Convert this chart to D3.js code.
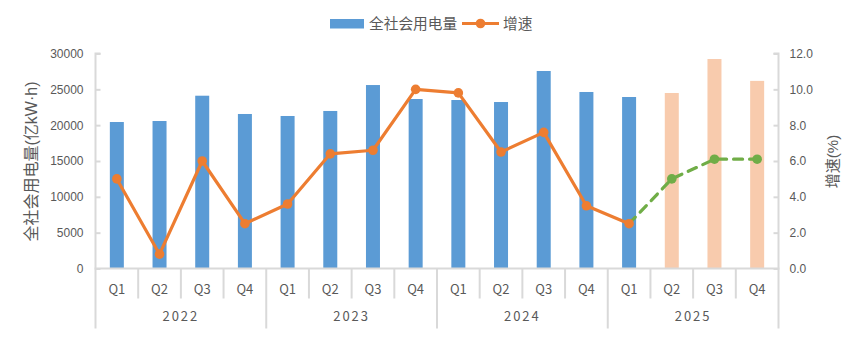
<!DOCTYPE html>
<html>
<head>
<meta charset="utf-8">
<script src="https://cdn.jsdelivr.net/npm/d3@7/dist/d3.min.js"></script>
<style>
  html, body { margin: 0; padding: 0; background: #fff; }
  svg { display: block; font-family: "Noto Sans CJK SC", "Noto Sans", sans-serif; }
</style>
</head>
<body>
<svg id="chart" width="864" height="339"></svg>
<script>
// Quarterly electricity consumption (亿kW·h) and year-on-year growth (%)
const years = ["2022", "2023", "2024", "2025"];
const quarters = ["Q1", "Q2", "Q3", "Q4"];
const consumption = [20440, 20580, 24110, 21560, 21280, 21980, 25600, 23650,
                     23510, 23230, 27560, 24630, 23930, 24490, 29230, 26180];
// last three quarters of 2025 are projections
const projected = [false, false, false, false, false, false, false, false,
                   false, false, false, false, false, true, true, true];
const growth = [5.0, 0.8, 6.0, 2.5, 3.6, 6.4, 6.6, 10.0, 9.8, 6.5, 7.6, 3.5, 2.5];
const growthForecast = [2.5, 5.0, 6.1, 6.1]; // 2025 Q1 .. Q4
const leftTicks = [0, 5000, 10000, 15000, 20000, 25000, 30000];
const rightTicks = [0, 2, 4, 6, 8, 10, 12];

const svg = d3.select("#chart");
const plotL = 95.5, plotR = 778.5, plotT = 53.5, plotB = 268.5;
const textColor = "#595959", axisColor = "#d9d9d9";
const blue = "#5b9bd5", peach = "#f8cbad", orange = "#ed7d31", green = "#70ad47";
const latin = "'Liberation Sans', 'DejaVu Sans', sans-serif";

const cats = d3.range(consumption.length);
const x = d3.scaleBand().domain(cats).range([plotL, plotR]);
const cx = i => x(i) + x.bandwidth() / 2;
const yL = d3.scaleLinear().domain([0, 30000]).range([plotB, plotT]);
const yR = d3.scaleLinear().domain([0, 12]).range([plotB, plotT]);

// bars
const barW = 14;
svg.append("g").selectAll("rect").data(consumption).join("rect")
  .attr("x", (d, i) => cx(i) - barW / 2)
  .attr("y", d => yL(d))
  .attr("width", barW)
  .attr("height", d => yL(0) - yL(d))
  .attr("fill", (d, i) => projected[i] ? peach : blue);

// left axis
const axL = svg.append("g").attr("transform", `translate(${plotL},0)`)
  .call(d3.axisRight(yL).tickValues(leftTicks).tickSize(5).tickFormat(d3.format("d")));
axL.select(".domain").attr("stroke", axisColor).attr("stroke-width", 2)
  .attr("d", `M5,${plotT}H0V${plotB}`);
axL.selectAll(".tick line").attr("stroke", axisColor).attr("stroke-width", 2);
axL.selectAll(".tick text").attr("x", -12).attr("text-anchor", "end")
  .attr("fill", textColor).style("font-size", "12px");

// right axis
const axR = svg.append("g").attr("transform", `translate(${plotR},0)`)
  .call(d3.axisLeft(yR).tickValues(rightTicks).tickSize(5).tickFormat(d3.format(".1f")));
axR.select(".domain").attr("stroke", axisColor).attr("stroke-width", 2)
  .attr("d", `M-5,${plotT}H0V${plotB}`);
axR.selectAll(".tick line").attr("stroke", axisColor).attr("stroke-width", 2);
axR.selectAll(".tick text").attr("x", 11).attr("text-anchor", "start")
  .attr("fill", textColor).style("font-size", "12px");

// category axis: baseline, quarter and year separators
const cat = svg.append("g");
cat.append("line").attr("x1", plotL - 1).attr("x2", plotR + 1)
  .attr("y1", plotB).attr("y2", plotB)
  .attr("stroke", axisColor).attr("stroke-width", 2);
d3.range(consumption.length + 1).forEach(i => {
  const xx = i < consumption.length ? x(i) : plotR;
  const isYear = i % 4 === 0;
  cat.append("line").attr("x1", xx).attr("x2", xx)
    .attr("y1", plotB).attr("y2", isYear ? 328.5 : 298.5)
    .attr("stroke", axisColor).attr("stroke-width", 2);
});
cat.selectAll("text.q").data(cats).join("text").attr("class", "q")
  .attr("x", i => cx(i)).attr("y", 293.5)
  .attr("text-anchor", "middle").attr("fill", textColor).style("font-size", "13px")
  .text(i => quarters[i % 4]);
cat.selectAll("text.yr").data(years).join("text").attr("class", "yr")
  .attr("x", (d, j) => (x(j * 4) + (j * 4 + 4 < consumption.length ? x(j * 4 + 4) : plotR)) / 2)
  .attr("y", 321)
  .attr("text-anchor", "middle").attr("fill", textColor)
  .style("font-size", "13px").style("letter-spacing", "2px")
  .text(d => d);

// growth forecast (dashed)
const fcIdx = d3.range(12, 16);
const lineF = d3.line().x((d, k) => cx(fcIdx[k])).y(d => yR(d));
svg.append("path").datum(growthForecast).attr("d", lineF)
  .attr("fill", "none").attr("stroke", green).attr("stroke-width", 3.2)
  .attr("stroke-dasharray", "9,7").attr("stroke-linecap", "round");
svg.append("g").selectAll("circle").data(growthForecast.slice(1)).join("circle")
  .attr("cx", (d, k) => cx(fcIdx[k + 1])).attr("cy", d => yR(d)).attr("r", 4.8)
  .attr("fill", green);

// growth line
const line = d3.line().x((d, i) => cx(i)).y(d => yR(d));
svg.append("path").datum(growth).attr("d", line)
  .attr("fill", "none").attr("stroke", orange).attr("stroke-width", 3.2)
  .attr("stroke-linejoin", "round");
svg.append("g").selectAll("circle").data(growth).join("circle")
  .attr("cx", (d, i) => cx(i)).attr("cy", d => yR(d)).attr("r", 4.8)
  .attr("fill", orange);

// axis titles
const tL = svg.append("text").attr("transform", "translate(37,161.5) rotate(-90)")
  .attr("text-anchor", "middle").attr("fill", textColor).style("font-size", "16px");
tL.append("tspan").text("全社会用电量");
tL.append("tspan").style("font-family", latin).text("(");
tL.append("tspan").text("亿");
tL.append("tspan").style("font-family", latin).text("kW\u00b7h)");

const tR = svg.append("text").attr("transform", "translate(838,161.5) rotate(-90)")
  .attr("text-anchor", "middle").attr("fill", textColor).style("font-size", "15px");
tR.append("tspan").text("增速");
tR.append("tspan").style("font-family", latin).text("(%)");

// legend
const lg = svg.append("g");
lg.append("rect").attr("x", 330).attr("y", 19).attr("width", 34).attr("height", 9.5).attr("fill", blue);
lg.append("text").attr("x", 369).attr("y", 29).attr("fill", textColor).style("font-size", "14.7px").text("全社会用电量");
lg.append("line").attr("x1", 462).attr("x2", 499).attr("y1", 23.5).attr("y2", 23.5)
  .attr("stroke", orange).attr("stroke-width", 3.2);
lg.append("circle").attr("cx", 480.5).attr("cy", 23.5).attr("r", 4.8).attr("fill", orange);
lg.append("text").attr("x", 503).attr("y", 29).attr("fill", textColor).style("font-size", "14.7px").text("增速");
</script>
</body>
</html>
